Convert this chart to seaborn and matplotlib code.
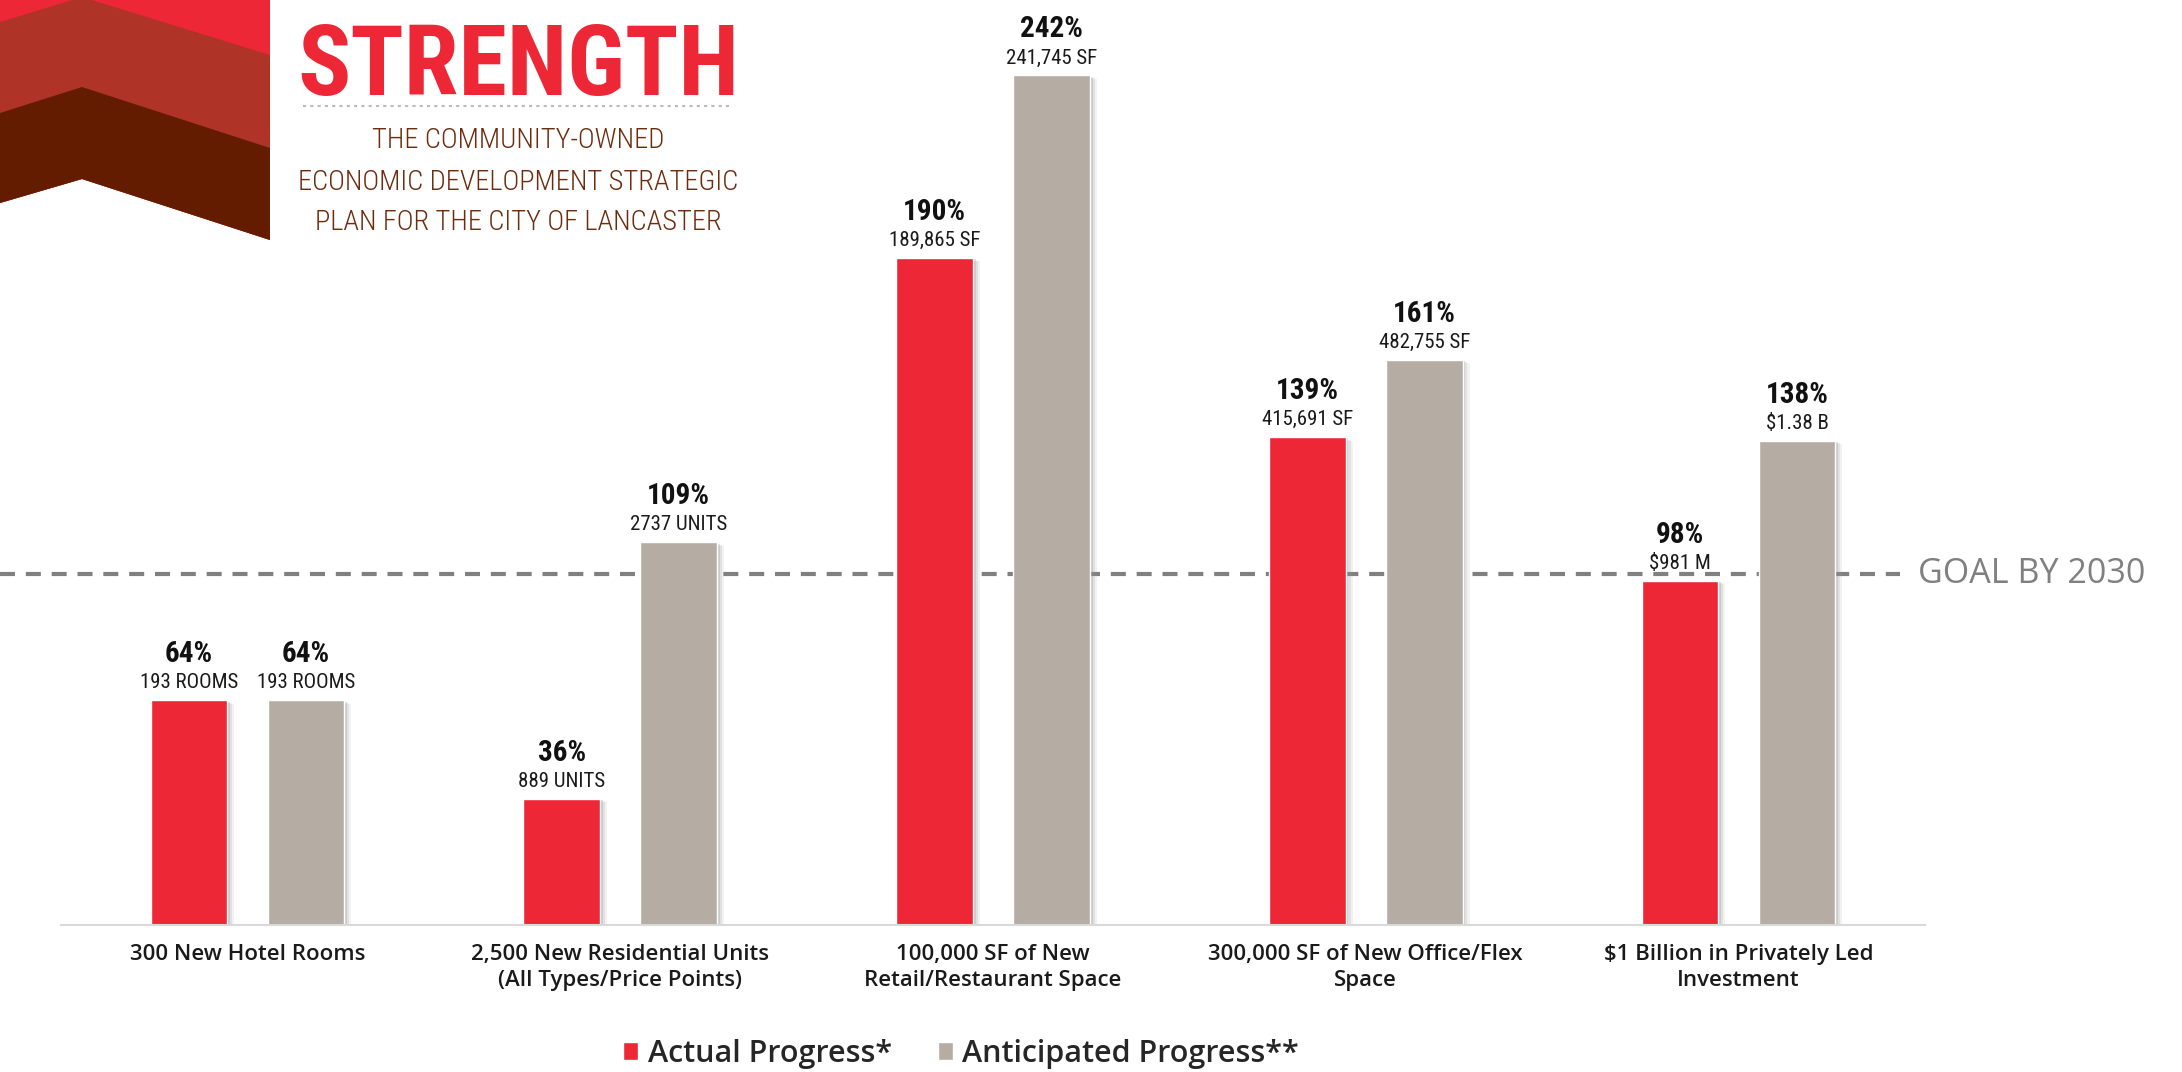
import pandas as pd
import matplotlib
matplotlib.use("Agg")
import matplotlib.pyplot as plt
import matplotlib.patheffects as pe
from matplotlib import font_manager
from matplotlib.patches import Polygon
import seaborn as sns

# Data
categories = [
    "300 New Hotel Rooms",
    "2,500 New Residential Units\n(All Types/Price Points)",
    "100,000 SF of New\nRetail/Restaurant Space",
    "300,000 SF of New Office/Flex\nSpace",
    "$1 Billion in Privately Led\nInvestment",
]
series = ["Actual Progress*", "Anticipated Progress**"]
actual_pct = [64, 36, 190, 139, 98]
anticipated_pct = [64, 109, 242, 161, 138]
actual_labels = ["193 ROOMS", "889 UNITS", "189,865 SF", "415,691 SF", "$981 M"]
anticipated_labels = ["193 ROOMS", "2737 UNITS", "241,745 SF", "482,755 SF", "$1.38 B"]
goal_pct = 100

RED = "#EE2737"
GRAY = "#B5ADA4"


def pick(cands, min_weight=0):
    # first family that is installed with a heavy enough face
    for c in cands:
        for f in font_manager.fontManager.ttflist:
            w = f.weight if isinstance(f.weight, int) else font_manager.weight_dict.get(f.weight, 400)
            if f.name == c and w >= min_weight:
                return c
    return "DejaVu Sans"


narrow = pick(["Roboto Condensed", "Liberation Sans Narrow", "Open Sans Condensed", "Liberation Sans"], 700)
sans = pick(["Montserrat", "Open Sans", "Lato", "Inter"], 600)

sns.set_theme(style="white")
plt.rcParams["font.family"] = [sans, "DejaVu Sans"]

df = pd.DataFrame({
    "category": categories * 2,
    "series": [series[0]] * 5 + [series[1]] * 5,
    "pct": actual_pct + anticipated_pct,
})

W, H = 2182, 1072
fig = plt.figure(figsize=(W / 100, H / 100), dpi=100)
ax = fig.add_axes([61 / W, 147 / H, 1864 / W, 1 - 147 / H])

sns.barplot(data=df, x="category", y="pct", hue="series", palette=[RED, GRAY],
            width=0.627, gap=0.344, ax=ax, legend=True, saturation=1)

ax.set_xlim(-0.5, 4.5)
ax.set_ylim(0, 263.5)
ax.set_xlabel("")
ax.set_ylabel("")
ax.set_yticks([])
for s in ["top", "right", "left"]:
    ax.spines[s].set_visible(False)
ax.spines["bottom"].set_color("#d9d9d9")
ax.spines["bottom"].set_linewidth(1.5)
ax.tick_params(axis="x", length=0, pad=14)
ax.set_xticks(range(len(categories)))
ax.set_xticklabels(categories, fontsize=16, fontweight="semibold", color="#1a1a1a",
                   linespacing=1.3)

# soft drop shadows on bars
for bar in ax.patches:
    bar.set_path_effects([
        pe.SimplePatchShadow(offset=(5, -2.5), shadow_rgbFace="#999999", alpha=0.12),
        pe.SimplePatchShadow(offset=(3.5, -1.8), shadow_rgbFace="#999999", alpha=0.18),
        pe.SimplePatchShadow(offset=(2, -1), shadow_rgbFace="#888888", alpha=0.25),
        pe.Normal()])

# labels above bars
for cont, pcts, subs in zip(ax.containers, [actual_pct, anticipated_pct],
                            [actual_labels, anticipated_labels]):
    for bar, p, s in zip(cont, pcts, subs):
        cx = bar.get_x() + bar.get_width() / 2
        top = bar.get_height()
        ax.annotate(s, xy=(cx, top), xytext=(0, 12), textcoords="offset pixels",
                    ha="center", va="baseline", fontsize=15, color="#1a1a1a",
                    family=[narrow, "DejaVu Sans"])
        ax.annotate(f"{p}%", xy=(cx, top), xytext=(0, 38), textcoords="offset pixels",
                    ha="center", va="baseline", fontsize=21, fontweight="bold", color="#111111",
                    family=[narrow, "DejaVu Sans"])

# goal line
ax.axhline(goal_pct, xmin=-61 / 1864, xmax=(1900 - 61) / 1864, color="#808080", lw=3,
           ls=(0, (3.6, 2.6)), clip_on=False, zorder=0.5)
ax.text((1918 - 61) / 1864, goal_pct, "GOAL BY 2030", transform=ax.get_yaxis_transform(),
        ha="left", va="center", fontsize=24.5, fontweight="medium", color="#808080")

# legend
leg = ax.get_legend()
handles = leg.legend_handles
labels = [t.get_text() for t in leg.get_texts()]
leg.remove()
fig.legend(handles, labels, loc="center", bbox_to_anchor=(961 / W, 1 - 1054 / H), ncol=2,
           frameon=False, prop={"family": [sans, "DejaVu Sans"], "size": 22, "weight": "semibold"},
           handlelength=0.5, handleheight=0.5, handletextpad=0.3, columnspacing=1.5)

# logo block (pixel coordinates, y pointing down)
lax = fig.add_axes([0, 1 - 260 / H, 780 / W, 260 / H])
lax.set_xlim(0, 780)
lax.set_ylim(260, 0)
lax.axis("off")
lax.add_patch(Polygon([(0, -10), (270, -10), (270, 240), (82, 179), (0, 203)], closed=True,
                      color=RED, lw=0))
lax.add_patch(Polygon([(0, 22), (82, -3), (270, 55), (270, 240), (82, 179), (0, 203)], closed=True,
                      color="#B03328", lw=0))
lax.add_patch(Polygon([(0, 113), (82, 87), (270, 148), (270, 240), (82, 179), (0, 203)], closed=True,
                      color="#641C00", lw=0))
lax.text(518, 95, "STRENGTH", ha="center", va="baseline", fontsize=71, fontweight="bold",
         color=RED, family=[narrow, "DejaVu Sans"])
lax.plot([303, 733], [106, 106], color="#bbbbbb", lw=1.5, ls=(0, (1.5, 2)))
subtitle = ["THE COMMUNITY-OWNED", "ECONOMIC DEVELOPMENT STRATEGIC", "PLAN FOR THE CITY OF LANCASTER"]
for i, line in enumerate(subtitle):
    lax.text(518, 141 + i * 41, line, ha="center", va="center", fontsize=20.5, fontweight="light",
             color="#6E2C0E", family=[narrow, "DejaVu Sans"])

fig.savefig("out.png", dpi=100)
